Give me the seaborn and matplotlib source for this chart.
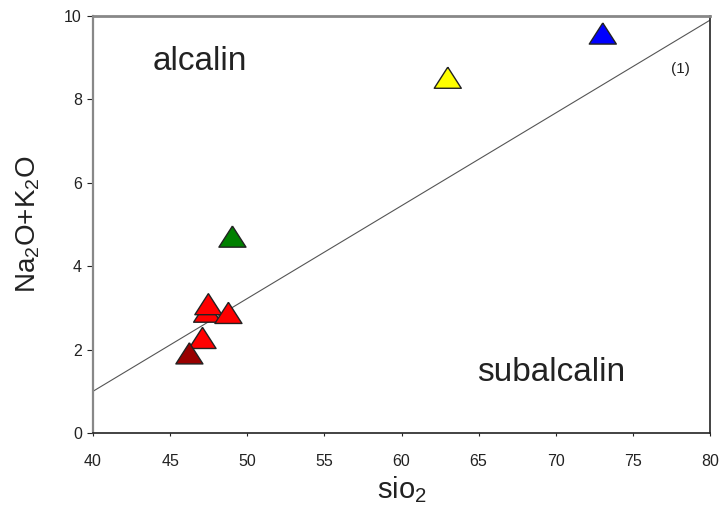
import matplotlib
matplotlib.use("Agg")
import matplotlib.pyplot as plt
import seaborn as sns
import pandas as pd

sns.set_theme(style="white")
plt.rcParams['font.family'] = ['Liberation Sans', 'DejaVu Sans']

sio2 = [73.05, 63.0, 49.04, 47.4, 47.48, 48.78, 47.1, 46.25]
alk = [9.58, 8.52, 4.71, 2.91, 3.09, 2.88, 2.28, 1.91]
colors = ['#0000ff', '#ffff00', '#008000', '#ff0000', '#ff0000', '#ff0000', '#ff0000', '#990000']
groups = ['g0', 'g1', 'g2', 'g3', 'g4', 'g5', 'g6', 'g7']

line_x = [40, 80]
line_y = [1.0, 9.9]

df = pd.DataFrame({'sio2': sio2, 'alk': alk, 'grp': groups})

fig = plt.figure(figsize=(7.21, 5.07), dpi=100)
ax = fig.add_axes([93/721, (507-433)/507, (710-93)/721, (433-16)/507])

tri = [(0, 0.78), (-1, -0.78), (1, -0.78), (0, 0.78)]

ax.plot(line_x, line_y, color='#555555', lw=0.8, zorder=1)
sns.scatterplot(data=df, x='sio2', y='alk', hue='grp', palette=colors,
                marker=tri, s=380, edgecolor='#222222', linewidth=1.0,
                legend=False, ax=ax, zorder=3)

ax.set_xlim(40, 80)
ax.set_ylim(0, 10)
ax.set_xticks(range(40, 81, 5))
ax.set_yticks(range(0, 11, 2))
ax.tick_params(axis='x', direction='out', length=2, width=0.8, labelsize=11.5, pad=13, bottom=True, colors='#222222')
ax.tick_params(axis='y', direction='out', length=4, width=0.8, labelsize=11.5, pad=4, left=True, colors='#222222')
for s in ax.spines.values():
    s.set_color('#222222')
    s.set_linewidth(1.2)
    s.set_visible(True)
ax.spines['top'].set_color('#888888')
ax.spines['top'].set_linewidth(2)
ax.spines['left'].set_color('#888888')
ax.spines['left'].set_linewidth(1.6)

ax.set_xlabel(r"sio$\mathregular{_2}$", fontsize=21, labelpad=4, color='#222222')
ax.set_ylabel(r"Na$\mathregular{_2}$O+K$\mathregular{_2}$O", fontsize=20, labelpad=16, color='#222222')

ax.text(46.9, 8.9, "alcalin", fontsize=24, ha='center', va='center', color='#222222')
ax.text(69.7, 1.44, "subalcalin", fontsize=24, ha='center', va='center', color='#222222')
ax.text(78.1, 8.73, "(1)", fontsize=11, ha='center', va='center', color='#222222')

fig.savefig("out.png", dpi=100)
